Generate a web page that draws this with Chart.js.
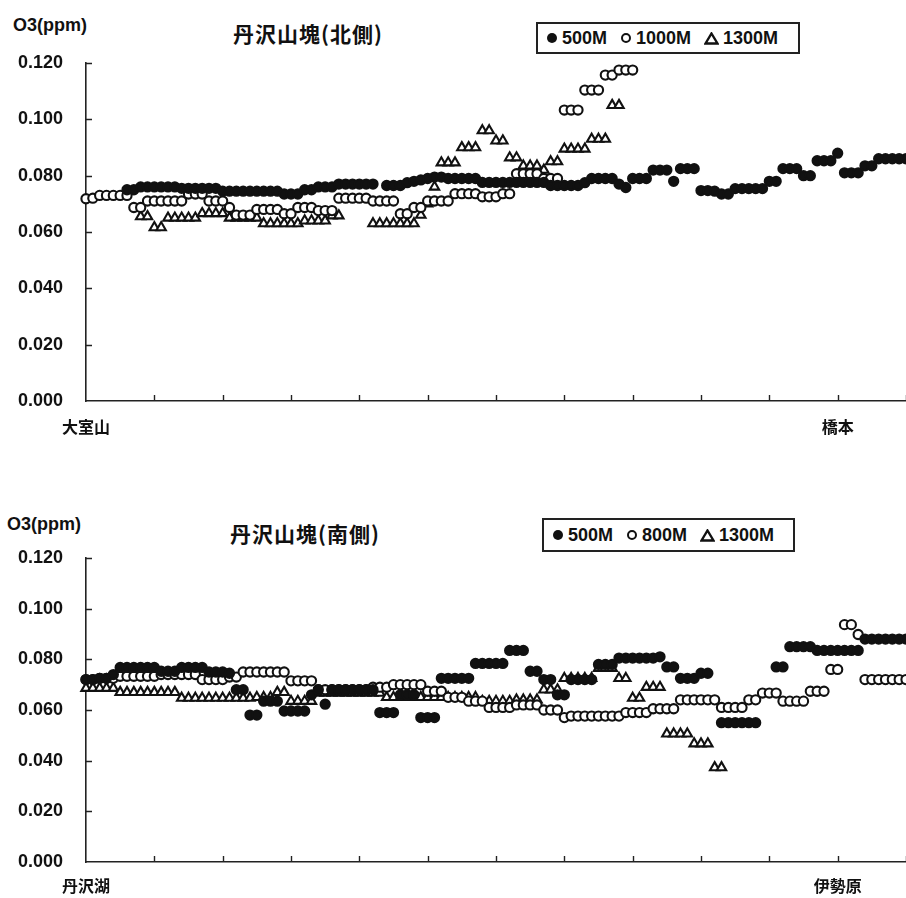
<!DOCTYPE html>
<html>
<head>
<meta charset="utf-8">
<script src="https://cdn.jsdelivr.net/npm/chart.js@4.4.1/dist/chart.umd.min.js"></script>
<style>
  body { margin:0; background:#fff; width:906px; height:898px; overflow:hidden; position:relative;
         font-family:"Liberation Sans", Arial, sans-serif; color:#111; }
  canvas { position:absolute; left:0; }
  .txt { position:absolute; white-space:nowrap; line-height:1; }
  .unit { font-size:18px; font-weight:bold; }
  .ttl { font-family:"Noto Sans CJK JP", sans-serif; font-size:21px; font-weight:bold; letter-spacing:1px; }
  .lgd { position:absolute; border:2px solid #222; box-sizing:border-box; display:flex; align-items:center;
         padding-left:8px; font-size:18px; font-weight:bold; }
  .lgd .it { display:flex; align-items:center; margin-right:13px; }
  .lgd svg { margin-right:4px; }
</style>
</head>
<body>
<div class="txt unit" style="left:13px;top:16px">O3(ppm)</div>
<div class="txt ttl" style="left:233px;top:23px">丹沢山塊(北側)</div>
<div class="lgd" id="legendTop" style="left:536px;top:22px;width:264px;height:32px"></div>
<canvas id="chartTop" width="906" height="450" style="top:0"></canvas>

<div class="txt unit" style="left:7px;top:515px">O3(ppm)</div>
<div class="txt ttl" style="left:230px;top:523px">丹沢山塊(南側)</div>
<div class="lgd" id="legendBottom" style="left:542px;top:518px;width:253px;height:34px"></div>
<canvas id="chartBottom" width="906" height="443" style="top:455px"></canvas>

<script>
/* ── shared axis setup ── */
const X_STEP = 0.1;          // distance between samples, in x-tick units
const X_MAX = 12;
const Y_MAX = 0.12;
const Y_STEP = 0.02;

/* ── north side (大室山 → 橋本) ── */
const TOP_X_LABELS = { 0:'大室山', 11:'橋本' };
const TOP_LABELS = ['500M','1000M','1300M'];

const TOP_500M_START = 6;
const TOP_500M = [
  0.075,0.075,
  0.076,0.076,0.076,0.076,0.076,0.076,
  0.0755,0.0755,0.0755,0.0755,0.0755,0.0755,
  0.0745,0.0745,0.0745,0.0745,0.0745,0.0745,0.0745,0.0745,0.0745,
  0.0735,0.0735,0.0735,
  0.075,0.075,
  0.076,0.076,0.076,
  0.077,0.077,0.077,0.077,0.077,0.077,
  null,
  0.0765,0.0765,0.0765,
  0.0775,0.078,0.0785,
  0.079,0.0795,0.0795,
  0.079,0.079,0.079,0.079,0.079,
  0.0776,0.0776,0.0776,0.0776,0.0776,0.0776,0.0776,0.0776,0.0776,0.0776,
  0.0765,0.0765,0.0765,0.0765,0.0765,
  0.0775,
  0.079,0.079,0.079,0.079,
  0.077,0.0758,
  0.079,0.079,0.079,
  0.082,0.082,0.082,
  0.078,
  0.0825,0.0825,0.0825,
  0.0747,0.0747,
  0.0745,0.0735,0.0735,
  0.0754,0.0754,0.0754,0.0754,0.0754,
  0.078,0.078,
  0.0825,0.0825,0.0825,
  0.080,0.080,
  0.0853,0.0853,0.0853,
  0.088,
  0.081,0.081,0.081,
  0.0835,0.0835,
  0.086,0.086,0.086,0.086,0.086
];

const TOP_1000M_START = 0;
const TOP_1000M = [
  0.0718,0.072,
  0.073,0.073,0.073,0.073,0.073,
  0.0687,0.0687,
  0.071,0.071,0.071,0.071,0.071,0.071,
  0.0735,0.0735,0.0735,
  0.071,0.071,0.071,
  0.0687,
  0.066,0.066,0.066,
  0.068,0.068,0.068,0.068,
  0.0665,0.0665,
  0.0687,0.0687,0.0687,
  0.0676,0.0676,0.0676,
  0.072,0.072,0.072,0.072,0.072,
  0.071,0.071,0.071,0.071,
  0.0665,0.0665,
  0.0687,0.0687,
  0.071,0.071,0.071,0.071,
  0.0736,0.0736,0.0736,0.0736,
  0.0725,0.0725,0.0725,
  0.0736,0.0736,
  0.0807,0.0807,0.0807,0.0807,
  0.079,0.079,0.079,
  0.1033,0.1033,0.1033,
  0.1104,0.1104,0.1104,
  0.1157,0.1157,
  0.1175,0.1175,0.1175
];

const TOP_1300M_START = 8;
const TOP_1300M = [
  0.0655,0.0655,
  0.0616,0.0616,
  0.065,0.065,0.065,0.065,0.065,
  0.0666,0.0666,0.0666,0.0666,
  0.065,0.065,0.065,0.065,0.065,
  0.063,0.063,0.063,0.063,0.063,0.063,
  0.064,0.064,0.064,0.064,
  0.0658,0.0658,
  null,null,null,null,
  0.063,0.063,0.063,0.063,0.063,0.063,0.063,
  0.066,0.070,0.076,
  0.0846,0.0846,0.0846,
  0.090,0.090,0.090,
  0.096,0.096,
  0.0924,0.0924,
  0.0864,0.0864,
  0.0835,0.0835,0.0835,
  0.082,
  0.085,0.085,
  0.0895,0.0895,0.0895,0.0895,
  0.093,0.093,0.093,
  0.105,0.105
];

/* ── south side (丹沢湖 → 伊勢原) ── */
const BOT_X_LABELS = { 0:'丹沢湖', 11:'伊勢原' };
const BOT_LABELS = ['500M','800M','1300M'];

const BOT_500M_START = 0;
const BOT_500M = [
  0.072,0.072,
  0.0725,0.0725,0.074,
  0.0768,0.0768,0.0768,0.0768,0.0768,0.0768,
  0.0753,0.0753,0.0753,
  0.0768,0.0768,0.0768,0.0768,
  0.075,0.075,0.075,
  0.0745,
  0.068,0.068,
  0.058,0.058,
  0.0635,0.0635,0.0635,
  0.0596,0.0596,0.0596,0.0596,
  0.066,0.068,0.0623,
  0.068,0.068,0.068,0.068,0.068,0.068,0.068,
  0.059,0.059,0.059,
  0.066,0.066,0.066,
  0.057,0.057,0.057,
  0.0725,0.0725,0.0725,0.0725,0.0725,
  0.0784,0.0784,0.0784,0.0784,0.0784,
  0.0835,0.0835,0.0835,
  0.0753,0.0753,
  0.072,0.072,
  0.066,0.066,
  0.072,0.072,0.072,0.072,
  0.078,0.078,0.078,
  0.0805,0.0805,0.0805,0.0805,0.0805,0.0805,
  0.081,
  0.077,0.077,
  0.0725,0.0725,0.0725,
  0.0745,0.0745,
  null,
  0.055,0.055,0.055,0.055,0.055,0.055,
  null,null,
  0.077,0.077,
  0.085,0.085,0.085,0.085,
  0.0835,0.0835,0.0835,0.0835,0.0835,0.0835,0.0835,
  0.088,0.088,0.088,0.088,0.088,0.088,0.088
];

const BOT_800M_START = 0;
const BOT_800M = [
  0.072,0.072,
  0.0725,0.0725,0.0725,
  0.0733,0.0733,0.0733,0.0733,0.0733,0.0733,
  0.074,0.074,0.074,0.074,0.074,0.074,
  0.072,0.072,0.072,0.072,
  0.073,0.073,
  0.075,0.075,0.075,0.075,0.075,0.075,0.075,
  0.0715,0.0715,0.0715,0.0715,
  0.068,0.068,0.068,0.068,0.068,0.068,0.068,0.068,
  0.069,0.069,0.069,
  0.070,0.070,0.070,0.070,0.070,
  0.0674,0.0674,0.0674,
  0.065,0.065,0.065,
  0.0635,0.0635,0.0635,
  0.061,0.061,0.061,0.061,
  0.062,0.062,0.062,0.062,
  0.060,0.060,0.060,
  0.057,
  0.0576,0.0576,0.0576,0.0576,0.0576,0.0576,0.0576,0.0576,
  0.059,0.059,0.059,0.059,
  0.0605,0.0605,0.0605,0.0605,
  0.064,0.064,0.064,0.064,0.064,0.064,
  0.061,0.061,0.061,0.061,
  0.064,0.064,
  0.0667,0.0667,0.0667,
  0.0635,0.0635,0.0635,0.0635,
  0.0674,0.0674,0.0674,
  0.076,0.076,
  0.0937,0.0937,
  0.0898,
  0.072,0.072,0.072,0.072,0.072,0.072,0.072
];

const BOT_1300M_START = 0;
const BOT_1300M = [
  0.0686,0.0686,0.0686,0.0686,0.0686,
  0.067,0.067,0.067,0.067,0.067,0.067,0.067,0.067,0.067,
  0.0647,0.0647,0.0647,0.0647,0.0647,0.0647,0.0647,0.0647,0.0647,0.0647,0.0647,
  0.065,0.065,0.065,
  0.067,0.067,
  0.0635,0.0635,0.0635,0.0635,
  0.0667,0.0667,0.0667,0.0667,0.0667,0.0667,0.0667,0.0667,0.0667,0.0667,
  0.065,0.065,0.065,0.065,0.065,0.065,0.065,0.065,0.065,0.065,0.065,0.065,0.065,0.065,
  0.0635,0.0635,0.0635,0.0635,0.0635,
  0.064,0.064,0.064,0.064,
  0.068,0.068,0.068,
  0.0725,0.0725,0.0725,0.0725,0.0725,
  0.0765,0.0765,0.0765,
  0.0725,0.0725,
  0.0647,0.0647,
  0.069,0.069,0.069,
  0.0506,0.0506,0.0506,0.0506,
  0.0467,0.0467,0.0467,
  0.0373,0.0373
];

/* ── marker styles ── */
const MARKERS = [
  { pointStyle:'circle',   radius:4.6, fill:'#111', stroke:'#111' },
  { pointStyle:'circle',   radius:4.6, fill:'#fff', stroke:'#111' },
  { pointStyle:'triangle', radius:5.4, fill:'#fff', stroke:'#111' }
];

function toPoints(start, arr) {
  return arr.map((v,k) => ({ x:(start+k)*X_STEP, y:v }));
}

/* short inward tick marks, placed through the scales */
const inwardTicks = {
  id:'inwardTicks',
  afterDraw(chart) {
    const { ctx, chartArea:{left,bottom}, scales:{x,y} } = chart;
    ctx.save();
    ctx.strokeStyle = '#222';
    ctx.lineWidth = 1.4;
    ctx.beginPath();
    x.ticks.forEach(t => {
      if (t.value === 0) return;
      const px = Math.round(x.getPixelForValue(t.value)) + 0.5;
      ctx.moveTo(px, bottom); ctx.lineTo(px, bottom - 6);
    });
    y.ticks.forEach(t => {
      if (t.value === 0) return;
      const py = Math.round(y.getPixelForValue(t.value)) + 0.5;
      ctx.moveTo(left, py); ctx.lineTo(left + 6, py);
    });
    ctx.stroke();
    ctx.restore();
  }
};

function buildLegend(id, labels) {
  const sym = [
    '<svg width="12" height="12"><circle cx="6" cy="6" r="5" fill="#111"/></svg>',
    '<svg width="12" height="12"><circle cx="6" cy="6" r="4" fill="#fff" stroke="#111" stroke-width="2"/></svg>',
    '<svg width="15" height="13"><polygon points="7.5,1.5 13.5,11.5 1.5,11.5" fill="#fff" stroke="#111" stroke-width="2.4"/></svg>'
  ];
  document.getElementById(id).innerHTML =
    labels.map((l,i) => `<span class="it">${sym[i]}${l}</span>`).join('');
}

function buildPanel(canvasId, series, labels, xLabels, padTop, axisH, labelPad) {
  const ctx = document.getElementById(canvasId).getContext('2d');
  return new Chart(ctx, {
    type:'scatter',
    data:{
      datasets: series.map((s,i) => ({
        label: labels[i],
        data: toPoints(s[0], s[1]),
        pointStyle: MARKERS[i].pointStyle,
        pointRadius: MARKERS[i].radius,
        pointHoverRadius: MARKERS[i].radius,
        backgroundColor: MARKERS[i].fill,
        borderColor: MARKERS[i].stroke,
        borderWidth: 2.1,
        clip: false
      }))
    },
    options:{
      responsive:false,
      animation:false,
      layout:{ autoPadding:false, padding:{ top:padTop, right:0, bottom:0, left:0 } },
      plugins:{ legend:{ display:false }, tooltip:{ enabled:false } },
      scales:{
        x:{
          type:'linear', min:0, max:X_MAX,
          afterFit: s => { s.height = axisH; s.paddingLeft = 0; s.paddingRight = 0; },
          border:{ display:true, color:'#222', width:1.6 },
          grid:{ display:true, drawOnChartArea:false, drawTicks:false },
          ticks:{
            stepSize:1, autoSkip:false, maxRotation:0, padding:labelPad,
            color:'#111',
            font:{ family:'"Noto Sans CJK JP"', size:16, weight:'bold' },
            callback: v => xLabels[v] || ''
          }
        },
        y:{
          min:0, max:Y_MAX,
          afterFit: s => { s.width = 86; },
          border:{ display:true, color:'#222', width:1.6 },
          grid:{ display:true, drawOnChartArea:false, drawTicks:false },
          ticks:{
            stepSize:Y_STEP, padding:23, color:'#111',
            font:{ family:'"Liberation Sans"', size:18, weight:'bold' },
            callback: v => v.toFixed(3)
          }
        }
      }
    },
    plugins:[inwardTicks]
  });
}

window.addEventListener('DOMContentLoaded', () => {
  buildLegend('legendTop', TOP_LABELS);
  buildLegend('legendBottom', BOT_LABELS);
  buildPanel('chartTop',
    [[TOP_500M_START, TOP_500M], [TOP_1000M_START, TOP_1000M], [TOP_1300M_START, TOP_1300M]],
    TOP_LABELS, TOP_X_LABELS, 63, 49, 16);
  buildPanel('chartBottom',
    [[BOT_500M_START, BOT_500M], [BOT_800M_START, BOT_800M], [BOT_1300M_START, BOT_1300M]],
    BOT_LABELS, BOT_X_LABELS, 103, 36, 14);
});
</script>
</body>
</html>
